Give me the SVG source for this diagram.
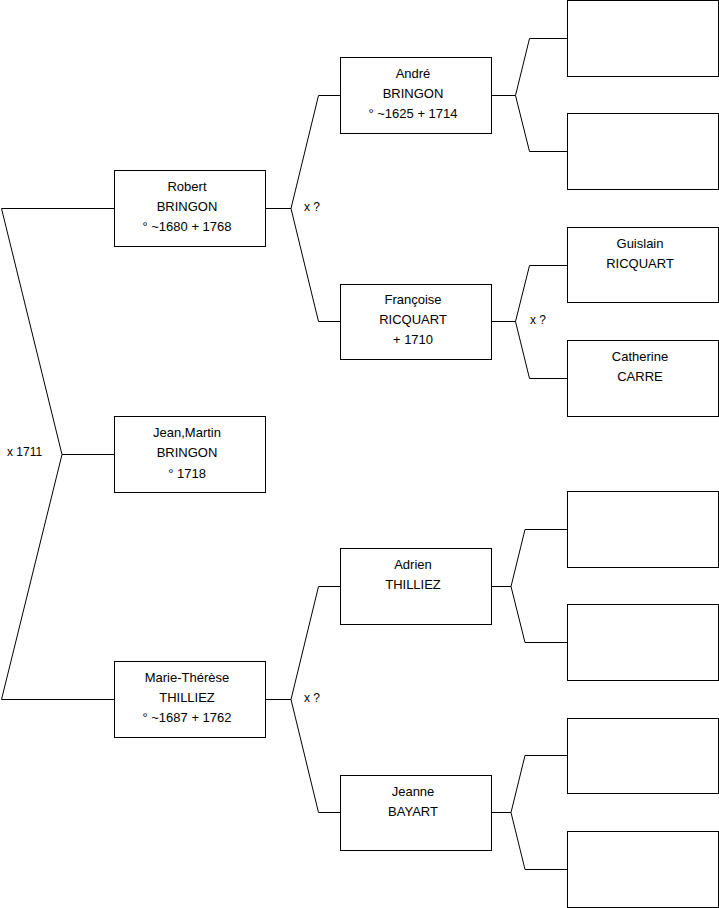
<svg xmlns="http://www.w3.org/2000/svg" width="719" height="908" viewBox="0 0 719 908">
<style>
.box{fill:#fff;stroke:#000;stroke-width:1}
.ln{fill:none;stroke:#000;stroke-width:1}
text{font-family:"Liberation Sans",Arial,sans-serif;font-size:12px;fill:#000}
.c{text-anchor:middle;font-size:13px}
</style>
<rect width="719" height="908" fill="#fff"/>
<g id="connectors">
<polyline class="ln" points="114,208.5 1.5,208.5 62,454.5 1.5,699.5 114,699.5"/>
<line class="ln" x1="62" y1="454.5" x2="114" y2="454.5"/>
<polyline class="ln" points="265,208.5 291,208.5 318.5,95.5 340,95.5"/>
<polyline class="ln" points="291,208.5 318.5,321.5 340,321.5"/>
<polyline class="ln" points="265,699.5 291,699.5 318.5,586.5 340,586.5"/>
<polyline class="ln" points="291,699.5 318.5,812.5 340,812.5"/>
<polyline class="ln" points="492,95.5 515.5,95.5 529.5,38.5 567,38.5"/>
<polyline class="ln" points="515.5,95.5 529.5,151.5 567,151.5"/>
<polyline class="ln" points="492,321.5 515.5,321.5 529.5,265.5 567,265.5"/>
<polyline class="ln" points="515.5,321.5 529.5,378.5 567,378.5"/>
<polyline class="ln" points="492,586.5 511,586.5 525,529.5 567,529.5"/>
<polyline class="ln" points="511,586.5 525,642.5 567,642.5"/>
<polyline class="ln" points="492,812.5 511,812.5 525,755.5 567,755.5"/>
<polyline class="ln" points="511,812.5 525,869.5 567,869.5"/>
<text x="7" y="456">x 1711</text>
<text x="304" y="211">x ?</text>
<text x="304" y="702">x ?</text>
<text x="530" y="324">x ?</text>
</g>
<g id="robert"><rect class="box" x="114.5" y="170.5" width="151" height="76"/>
<text class="c" x="187" y="191">Robert</text><text class="c" x="187" y="211">BRINGON</text><text class="c" x="187" y="231">° ~1680 + 1768</text></g>
<g id="jeanmartin"><rect class="box" x="114.5" y="416.5" width="151" height="76"/>
<text class="c" x="187" y="437">Jean,Martin</text><text class="c" x="187" y="457">BRINGON</text><text class="c" x="187" y="478">° 1718</text></g>
<g id="mariethérèse"><rect class="box" x="114.5" y="661.5" width="151" height="76"/>
<text class="c" x="187" y="682">Marie-Thérèse</text><text class="c" x="187" y="702">THILLIEZ</text><text class="c" x="187" y="722">° ~1687 + 1762</text></g>
<g id="andre"><rect class="box" x="340.5" y="57.5" width="151" height="76"/>
<text class="c" x="413" y="78">André</text><text class="c" x="413" y="98">BRINGON</text><text class="c" x="413" y="118">° ~1625 + 1714</text></g>
<g id="francoise"><rect class="box" x="340.5" y="284.5" width="151" height="75"/>
<text class="c" x="413" y="304">Françoise</text><text class="c" x="413" y="324">RICQUART</text><text class="c" x="413" y="344">+ 1710</text></g>
<g id="adrien"><rect class="box" x="340.5" y="548.5" width="151" height="76"/>
<text class="c" x="413" y="569">Adrien</text><text class="c" x="413" y="589">THILLIEZ</text></g>
<g id="jeanne"><rect class="box" x="340.5" y="775.5" width="151" height="75"/>
<text class="c" x="413" y="796">Jeanne</text><text class="c" x="413" y="816">BAYART</text></g>
<g id="g3a"><rect class="box" x="567.5" y="0.5" width="151" height="76"/></g>
<g id="g3b"><rect class="box" x="567.5" y="113.5" width="151" height="76"/></g>
<g id="guislain"><rect class="box" x="567.5" y="227.5" width="151" height="75"/>
<text class="c" x="640" y="248">Guislain</text><text class="c" x="640" y="268">RICQUART</text></g>
<g id="catherine"><rect class="box" x="567.5" y="340.5" width="151" height="76"/>
<text class="c" x="640" y="361">Catherine</text><text class="c" x="640" y="381">CARRE</text></g>
<g id="g3e"><rect class="box" x="567.5" y="491.5" width="151" height="76"/></g>
<g id="g3f"><rect class="box" x="567.5" y="604.5" width="151" height="76"/></g>
<g id="g3g"><rect class="box" x="567.5" y="718.5" width="151" height="75"/></g>
<g id="g3h"><rect class="box" x="567.5" y="831.5" width="151" height="76"/></g>
</svg>
